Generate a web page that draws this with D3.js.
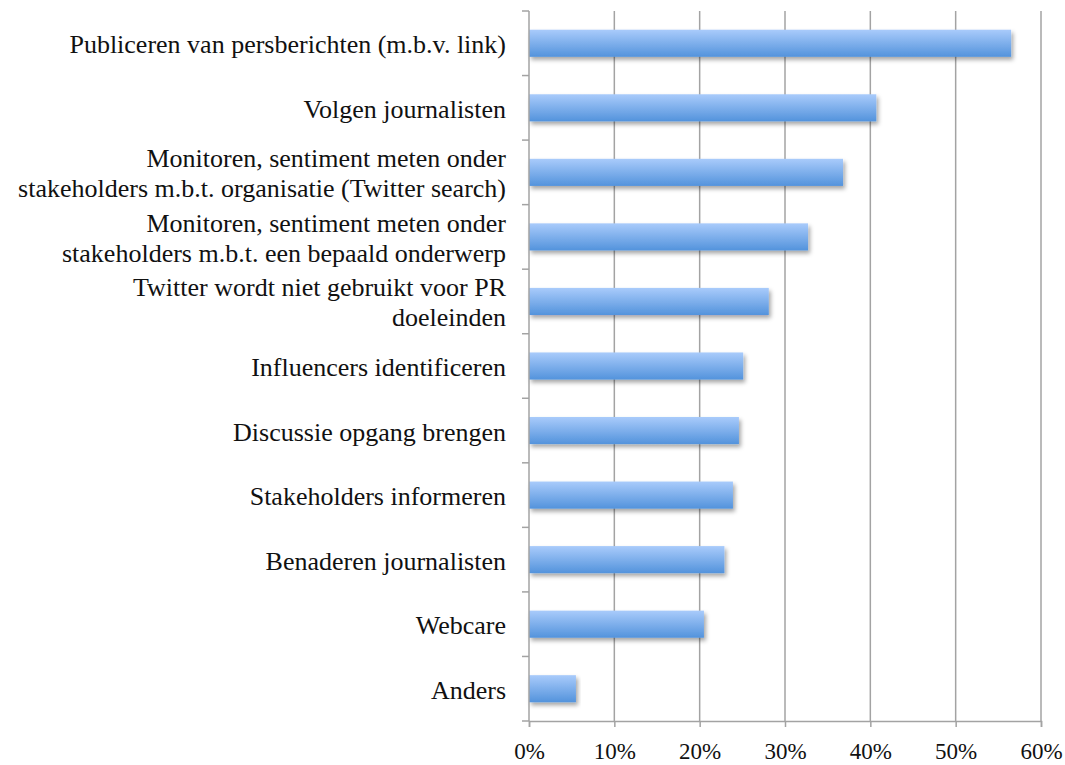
<!DOCTYPE html>
<html>
<head>
<meta charset="utf-8">
<script src="https://cdn.jsdelivr.net/npm/d3@7/dist/d3.min.js"></script>
<style>
  body { margin: 0; background: #fff; }
  text { font-family: "Liberation Serif", "DejaVu Serif", serif; fill: #111; }
</style>
</head>
<body>
<div id="chart"></div>
<script>
var categories = [
  ["Publiceren van persberichten (m.b.v. link)"],
  ["Volgen journalisten"],
  ["Monitoren, sentiment meten onder", "stakeholders m.b.t. organisatie (Twitter search)"],
  ["Monitoren, sentiment meten onder", "stakeholders m.b.t. een bepaald onderwerp"],
  ["Twitter wordt niet gebruikt voor PR", "doeleinden"],
  ["Influencers identificeren"],
  ["Discussie opgang brengen"],
  ["Stakeholders informeren"],
  ["Benaderen journalisten"],
  ["Webcare"],
  ["Anders"]
];
var values = [0.565, 0.407, 0.368, 0.327, 0.281, 0.251, 0.246, 0.239, 0.229, 0.205, 0.055];
var xTicks = [0, 0.1, 0.2, 0.3, 0.4, 0.5, 0.6];

var margin = { top: 11, right: 24, bottom: 44, left: 529 },
    width = 1065 - margin.left - margin.right,
    height = 765 - margin.top - margin.bottom;

var svg = d3.select("#chart").append("svg")
    .attr("width", 1065)
    .attr("height", 765);

var defs = svg.append("defs");
var grad = defs.append("linearGradient")
    .attr("id", "barGrad")
    .attr("x1", 0).attr("y1", 0).attr("x2", 0).attr("y2", 1);
grad.append("stop").attr("offset", "0%").attr("stop-color", "#a9cbfb");
grad.append("stop").attr("offset", "100%").attr("stop-color", "#5393dc");
var shadow = defs.append("filter").attr("id", "shadow")
    .attr("x", "-5%").attr("y", "-20%").attr("width", "115%").attr("height", "170%");
shadow.append("feDropShadow")
    .attr("dx", 2).attr("dy", 3).attr("stdDeviation", 2)
    .attr("flood-color", "#000").attr("flood-opacity", 0.35);

var g = svg.append("g")
    .attr("transform", "translate(" + margin.left + "," + margin.top + ")");

var idx = d3.range(categories.length);
var xScale = d3.scaleLinear().domain([0, 0.6]).range([0, width]);
var yScale = d3.scaleBand().domain(idx).range([0, height]).paddingInner(0.58).paddingOuter(0.29);
var bandStep = height / categories.length;

// gridlines
g.selectAll(".grid")
    .data(xTicks.slice(1))
    .enter().append("line")
    .attr("class", "grid")
    .attr("x1", function(d) { return xScale(d); })
    .attr("x2", function(d) { return xScale(d); })
    .attr("y1", 0)
    .attr("y2", height)
    .attr("stroke", "#a3a3a3")
    .attr("stroke-width", 1.5);

// bars
g.selectAll(".bar")
    .data(values)
    .enter().append("rect")
    .attr("class", "bar")
    .attr("x", 0)
    .attr("y", function(d, i) { return yScale(i); })
    .attr("width", function(d) { return xScale(d); })
    .attr("height", yScale.bandwidth())
    .attr("fill", "url(#barGrad)")
    .attr("filter", "url(#shadow)");

// x axis
var xAxis = d3.axisBottom(xScale)
    .tickValues(xTicks)
    .tickFormat(d3.format(".0%"))
    .tickSize(6)
    .tickPadding(16);
var xg = g.append("g")
    .attr("transform", "translate(0," + height + ")")
    .call(xAxis);
xg.select(".domain").attr("stroke", "#a3a3a3").attr("stroke-width", 1.5);
xg.selectAll(".tick line").attr("stroke", "#a3a3a3").attr("stroke-width", 1.5);
xg.selectAll(".tick text")
    .style("font-family", "'Liberation Serif', serif")
    .style("font-size", "23px")
    .attr("fill", "#111");

// y axis line and boundary ticks
g.append("line")
    .attr("x1", 0).attr("x2", 0).attr("y1", 0).attr("y2", height)
    .attr("stroke", "#a3a3a3").attr("stroke-width", 1.5);
g.selectAll(".ytick")
    .data(d3.range(categories.length + 1))
    .enter().append("line")
    .attr("class", "ytick")
    .attr("x1", -7).attr("x2", 0)
    .attr("y1", function(d) { return d * bandStep; })
    .attr("y2", function(d) { return d * bandStep; })
    .attr("stroke", "#a3a3a3").attr("stroke-width", 1.5);

// category labels
var lineH = 30;
var labels = g.selectAll(".label")
    .data(categories)
    .enter().append("text")
    .attr("class", "label")
    .attr("text-anchor", "end")
    .style("font-size", "26px")
    .attr("transform", function(d, i) {
        return "translate(-23," + (yScale(i) + yScale.bandwidth() / 2) + ")";
    });
labels.selectAll("tspan")
    .data(function(d) { return d.map(function(t, j) { return { t: t, j: j, n: d.length }; }); })
    .enter().append("tspan")
    .attr("x", 0)
    .attr("y", function(d) { return (d.j - (d.n - 1) / 2) * lineH + 10; })
    .text(function(d) { return d.t; });
</script>
</body>
</html>
